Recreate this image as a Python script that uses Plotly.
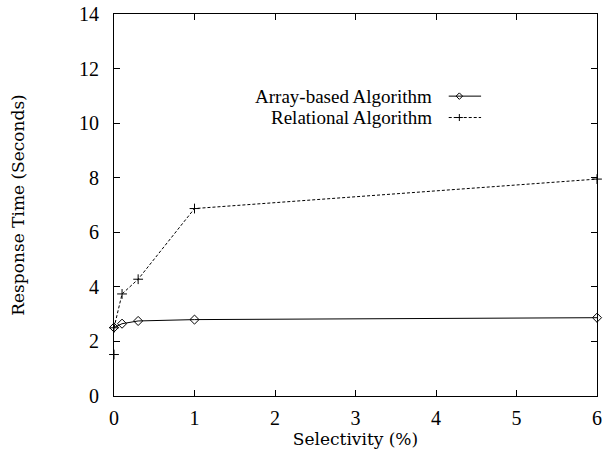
import plotly.graph_objects as go

selectivity = [0, 0.1, 0.3, 1, 6]
array_based = [2.51, 2.65, 2.75, 2.80, 2.87]
relational = [2.50, 3.74, 4.28, 6.87, 7.95]
extra_x = [0]
extra_y = [1.52]
series_names = ["Array-based Algorithm", "Relational Algorithm"]
x_ticks = [0, 1, 2, 3, 4, 5, 6]
y_ticks = [0, 2, 4, 6, 8, 10, 12, 14]

F_TICK = "Liberation Serif, serif"
F_TITLE = "DejaVu Serif, serif"
F_LEG = "Liberation Serif, serif"
fig = go.Figure()
fig.add_trace(go.Scatter(x=selectivity, y=array_based, mode="lines+markers",
                         line=dict(color="black", width=1),
                         marker=dict(symbol="diamond-open", size=7, color="black", line=dict(width=1)),
                         showlegend=False, cliponaxis=False))
fig.add_trace(go.Scatter(x=selectivity, y=relational, mode="lines+markers",
                         line=dict(color="black", width=1, dash="3px,2px"),
                         marker=dict(symbol="cross-thin-open", size=7, color="black", line=dict(width=1, color="black")),
                         showlegend=False, cliponaxis=False))
fig.add_trace(go.Scatter(x=extra_x, y=extra_y, mode="markers",
                         marker=dict(symbol="cross-thin-open", size=7, color="black", line=dict(width=1, color="black")),
                         showlegend=False, cliponaxis=False))

leg_x = [0.693, 0.760]
for i, (name, dash, sym) in enumerate([(series_names[0], "solid", "diamond-open"),
                                      (series_names[1], "3px,2px", "cross-thin-open")]):
    yy = 0.785 - i * 0.056
    fig.add_trace(go.Scatter(x=leg_x, y=[yy, yy], mode="lines", xaxis="x2", yaxis="y2",
                             line=dict(color="black", width=1, dash=dash), showlegend=False))
    fig.add_trace(go.Scatter(x=[0.715], y=[yy], mode="markers", xaxis="x2", yaxis="y2",
                             marker=dict(symbol=sym, size=5, color="black", line=dict(width=1, color="black")),
                             showlegend=False))
    fig.add_annotation(x=0.662, y=yy, xref="x2", yref="y2", text=name, showarrow=False,
                       xanchor="right", yanchor="middle",
                       font=dict(family=F_LEG, size=19, color="black"))

axis_common = dict(showline=True, linecolor="black", linewidth=1, mirror="allticks",
                   ticks="inside", ticklen=6, tickcolor="black", tickwidth=1,
                   showgrid=False, zeroline=False, ticklabeloverflow="allow",
                   tickfont=dict(family=F_TICK, size=20, color="black"))
fig.update_layout(
    width=605, height=451,
    margin=dict(l=114, r=3, t=11, b=55),
    plot_bgcolor="white", paper_bgcolor="white",
    font=dict(family="Liberation Serif, serif"),
    xaxis=dict(range=[0, 6], tickvals=x_ticks, ticklabelstandoff=4,
               title=dict(text="Selectivity (%)", standoff=2,
                          font=dict(family=F_TITLE, size=17, color="black")), **axis_common),
    yaxis=dict(range=[0, 14], tickvals=y_ticks, ticklabelstandoff=10,
               title=dict(text="Response Time (Seconds)", standoff=50,
                          font=dict(family=F_TITLE, size=17, color="black")), **axis_common),
    xaxis2=dict(range=[0, 1], overlaying="x", visible=False),
    yaxis2=dict(range=[0, 1], overlaying="y", visible=False),
    showlegend=False,
)
fig.write_html("out.html")
